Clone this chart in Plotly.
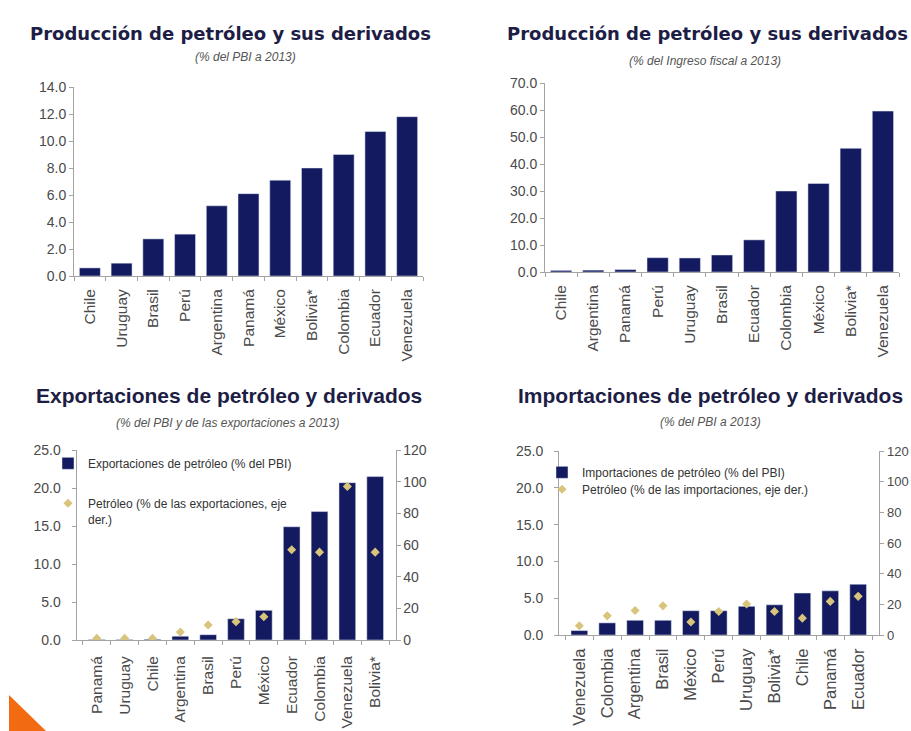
import plotly.graph_objects as go

# --- Producción de petróleo (% del PBI a 2013) ---
prod_pbi_paises = ["Chile", "Uruguay", "Brasil", "Perú", "Argentina", "Panamá",
                   "México", "Bolivia*", "Colombia", "Ecuador", "Venezuela"]
prod_pbi_valores = [0.6, 0.95, 2.75, 3.1, 5.2, 6.1, 7.1, 8.0, 9.0, 10.7, 11.8]

# --- Producción de petróleo (% del ingreso fiscal a 2013) ---
prod_fiscal_paises = ["Chile", "Argentina", "Panamá", "Perú", "Uruguay", "Brasil",
                      "Ecuador", "Colombia", "México", "Bolivia*", "Venezuela"]
prod_fiscal_valores = [0.6, 0.7, 0.9, 5.3, 5.2, 6.3, 11.9, 30.0, 32.8, 45.8, 59.6]

# --- Exportaciones de petróleo ---
expo_paises = ["Panamá", "Uruguay", "Chile", "Argentina", "Brasil", "Perú",
               "México", "Ecuador", "Colombia", "Venezuela", "Bolivia*"]
expo_pbi = [0.05, 0.05, 0.1, 0.5, 0.7, 2.8, 3.9, 14.9, 16.9, 20.7, 21.5]
expo_share = [1.0, 1.0, 1.0, 5.0, 9.5, 11.6, 14.7, 57.0, 55.5, 97.0, 55.5]

# --- Importaciones de petróleo ---
impo_paises = ["Venezuela", "Colombia", "Argentina", "Brasil", "México", "Perú",
               "Uruguay", "Bolivia*", "Chile", "Panamá", "Ecuador"]
impo_pbi = [0.6, 1.65, 2.0, 2.0, 3.3, 3.3, 3.9, 4.1, 5.7, 6.0, 6.9]
impo_share = [6.0, 12.5, 16.0, 19.0, 8.5, 15.3, 20.2, 15.3, 11.0, 21.9, 25.2]

W, H = 911, 731
NAVY = "#131a5f"
MARK = "#d9c47c"
AXIS = "#a3a3a3"
TITLE_C = "#1d1d45"
SANS = "Liberation Sans, Arial, sans-serif"


def tickfont(size):
    return dict(family=SANS, size=size, color="#4a4a4a")


def fx(p):
    return p / W


def fy(p):
    return 1 - p / H


fig = go.Figure()

fig.add_trace(go.Bar(x=prod_pbi_paises, y=prod_pbi_valores, xaxis="x", yaxis="y",
                     marker=dict(color=NAVY), width=0.66, showlegend=False))
fig.add_trace(go.Bar(x=prod_fiscal_paises, y=prod_fiscal_valores, xaxis="x2", yaxis="y2",
                     marker=dict(color=NAVY), width=0.66, showlegend=False))

fig.add_trace(go.Bar(x=expo_paises, y=expo_pbi, xaxis="x3", yaxis="y3",
                     marker=dict(color=NAVY), width=0.6,
                     name="Exportaciones de petróleo (% del PBI)", legend="legend"))
fig.add_trace(go.Scatter(x=expo_paises, y=expo_share, xaxis="x3", yaxis="y5",
                         mode="markers",
                         marker=dict(symbol="diamond", size=7, color=MARK),
                         name="Petróleo (% de las exportaciones, eje<br>der.)",
                         legend="legend2"))

fig.add_trace(go.Bar(x=impo_paises, y=impo_pbi, xaxis="x4", yaxis="y4",
                     marker=dict(color=NAVY), width=0.6,
                     name="Importaciones de petróleo (% del PBI)", legend="legend3"))
fig.add_trace(go.Scatter(x=impo_paises, y=impo_share, xaxis="x4", yaxis="y6",
                         mode="markers",
                         marker=dict(symbol="diamond", size=7, color=MARK),
                         name="Petróleo (% de las importaciones, eje der.)",
                         legend="legend4"))


def xax(x0, x1, anchor, size=15.5, standoff=6):
    return dict(domain=[fx(x0), fx(x1)], anchor=anchor, type="category",
                showline=True, linecolor=AXIS, linewidth=1,
                ticks="outside", tickson="boundaries", ticklen=4, tickcolor=AXIS,
                tickangle=-90, tickfont=tickfont(size), ticklabelstandoff=standoff,
                showgrid=False, fixedrange=True, automargin=False)


def yax(y0, y1, rng, dtick, anchor, fmt=".1f", side="left", overlaying=None,
        standoff=0, size=14):
    d = dict(domain=[fy(y0), fy(y1)], anchor=anchor, range=rng, dtick=dtick,
             tickformat=fmt, showline=True, linecolor=AXIS, linewidth=1,
             ticks="outside", ticklen=4, tickcolor=AXIS, tickfont=tickfont(size),
             ticklabelstandoff=standoff, automargin=False,
             showgrid=False, zeroline=False, side=side, fixedrange=True)
    if overlaying:
        d["overlaying"] = overlaying
    return d


def legend_at(x, y):
    return dict(x=fx(x), y=fy(y), xanchor="left", yanchor="top",
                bgcolor="rgba(0,0,0,0)", itemwidth=30, valign="top",
                font=dict(family=SANS, size=12, color="#333333"),
                tracegroupgap=0)


annotations = []


def title(text, x, y, family, size):
    annotations.append(dict(text="<b>%s</b>" % text, x=fx(x), y=fy(y),
                            xref="paper", yref="paper", showarrow=False,
                            xanchor="center", yanchor="middle",
                            font=dict(family=family, size=size, color=TITLE_C)))


def subtitle(text, x, y):
    annotations.append(dict(text="<i>%s</i>" % text, x=fx(x), y=fy(y),
                            xref="paper", yref="paper", showarrow=False,
                            xanchor="center", yanchor="middle",
                            font=dict(family=SANS, size=12, color="#555555")))


title("Producción de petróleo y sus derivados", 230, 33, "DejaVu Sans", 18)
subtitle("(% del PBI a 2013)", 245, 57)
title("Producción de petróleo y sus derivados", 707, 33, "DejaVu Sans", 18)
subtitle("(% del Ingreso fiscal a 2013)", 705, 61)
title("Exportaciones de petróleo y derivados", 229, 395, SANS, 21)
subtitle("(% del PBI y de las exportaciones a 2013)", 227, 423)
title("Importaciones de petróleo y derivados", 710, 395, SANS, 21)
subtitle("(% del PBI a 2013)", 710, 422)

fig.update_layout(
    width=W, height=H, autosize=False,
    margin=dict(l=0, r=0, t=0, b=0, autoexpand=False),
    paper_bgcolor="white", plot_bgcolor="white",
    bargap=0.3,
    xaxis=xax(74, 423, "y"),
    yaxis=yax(276, 87, [0, 14], 2, "x"),
    xaxis2=xax(545, 899, "y2"),
    yaxis2=yax(272, 83, [0, 70], 10, "x2"),
    xaxis3=xax(76.5, 395.5, "y3", size=15.5, standoff=9),
    yaxis3=yax(640, 450, [0, 25], 5, "x3", standoff=8),
    yaxis5=yax(640, 450, [0, 120], 20, "x3", fmt="d", side="right", overlaying="y3"),
    xaxis4=xax(559, 878.5, "y4", size=16.5, standoff=6),
    yaxis4=yax(635, 451, [0, 25], 5, "x4", standoff=8),
    yaxis6=yax(635, 451, [0, 120], 20, "x4", fmt="d", side="right", overlaying="y4",
               standoff=1, size=13),
    legend=legend_at(48, 449),
    legend2=legend_at(48, 489),
    legend3=legend_at(542, 458),
    legend4=legend_at(542, 475),
    annotations=annotations,
    shapes=[dict(type="path", xref="paper", yref="paper",
                 path="M %f,%f L %f,%f L %f,%f Z" % (fx(9), fy(695), fx(9), fy(731), fx(46), fy(731)),
                 fillcolor="#f26a12", line=dict(width=0))],
)

fig.write_html("out.html")
